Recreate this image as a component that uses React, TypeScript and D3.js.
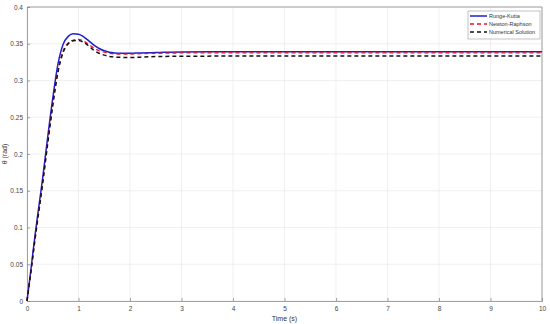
import React, { useEffect, useRef } from "react";
import * as d3 from "d3";

// time samples (s)
const times = [0, 0.05, 0.1, 0.15, 0.2, 0.3, 0.4, 0.5, 0.6, 0.7, 0.8, 0.9, 1.0, 1.1, 1.2, 1.3, 1.4, 1.5, 1.6, 1.7, 1.8, 2.0, 2.2, 2.5, 3, 4, 5, 6, 7, 8, 9, 10];

const rungeKutta = [0, 0.028, 0.057, 0.086, 0.113, 0.165, 0.222, 0.276, 0.322, 0.349, 0.36, 0.3635, 0.363, 0.3595, 0.354, 0.348, 0.3435, 0.3405, 0.3385, 0.3375, 0.337, 0.337, 0.3375, 0.338, 0.3388, 0.339, 0.339, 0.339, 0.339, 0.339, 0.339, 0.339];
const newtonRaphson = [0, 0.026, 0.054, 0.082, 0.108, 0.159, 0.215, 0.268, 0.313, 0.34, 0.351, 0.355, 0.356, 0.3535, 0.349, 0.344, 0.3405, 0.3385, 0.337, 0.3362, 0.336, 0.336, 0.3365, 0.337, 0.3375, 0.3377, 0.3377, 0.3377, 0.3377, 0.3377, 0.3377, 0.3377];
const numerical = [0, 0.026, 0.053, 0.081, 0.107, 0.158, 0.213, 0.266, 0.311, 0.338, 0.35, 0.354, 0.3545, 0.352, 0.347, 0.341, 0.337, 0.3345, 0.3328, 0.332, 0.3315, 0.3313, 0.3318, 0.3325, 0.333, 0.3332, 0.3332, 0.3332, 0.3332, 0.3332, 0.3332, 0.3332];

const xTicks = [0, 1, 2, 3, 4, 5, 6, 7, 8, 9, 10];
const yTicks = [0, 0.05, 0.1, 0.15, 0.2, 0.25, 0.3, 0.35, 0.4];

const series = [
  { name: "Runge-Kutta", values: rungeKutta, color: "#1f1fcf", dash: null, width: 1.5 },
  { name: "Newton-Raphson", values: newtonRaphson, color: "#e8102a", dash: "4,3", width: 1.3 },
  { name: "Numerical Solution", values: numerical, color: "#111111", dash: "4,3", width: 1.5 },
];

export default function App() {
  const ref = useRef<SVGSVGElement>(null);

  useEffect(() => {
    const svg = d3.select(ref.current);
    svg.selectAll("*").remove();

    const margin = { top: 7, right: 8, bottom: 23, left: 27 };
    const width = 550 - margin.left - margin.right;
    const height = 324 - margin.top - margin.bottom;

    const g = svg.append("g").attr("transform", "translate(" + margin.left + "," + margin.top + ")");

    const x = d3.scaleLinear().domain([0, 10]).range([0, width]);
    const y = d3.scaleLinear().domain([0, 0.4]).range([height, 0]);

    // grid
    g.append("g")
      .selectAll("line")
      .data(xTicks)
      .enter()
      .append("line")
      .attr("x1", d => x(d))
      .attr("x2", d => x(d))
      .attr("y1", 0)
      .attr("y2", height)
      .attr("stroke", "#e6e6e6")
      .attr("stroke-width", 0.6);
    g.append("g")
      .selectAll("line")
      .data(yTicks)
      .enter()
      .append("line")
      .attr("x1", 0)
      .attr("x2", width)
      .attr("y1", d => y(d))
      .attr("y2", d => y(d))
      .attr("stroke", "#e6e6e6")
      .attr("stroke-width", 0.6);

    // axes
    const xAxis = g.append("g")
      .attr("transform", "translate(0," + height + ")")
      .call(d3.axisBottom(x).tickValues(xTicks).tickSize(-3).tickPadding(5).tickFormat(d3.format("d")));
    const yAxis = g.append("g")
      .call(d3.axisLeft(y).tickValues(yTicks).tickSize(-3).tickPadding(4).tickFormat(d => String(+d)));
    [xAxis, yAxis].forEach(a => {
      a.select(".domain").attr("stroke", "#8a8a8a").attr("stroke-width", 0.8);
      a.selectAll(".tick line").attr("stroke", "#8a8a8a").attr("stroke-width", 0.8);
      a.selectAll("text").attr("fill", "#444").style("font-family", "Liberation Sans, Arial, sans-serif").style("font-size", "6.5px");
    });
    // top and right box
    g.append("line").attr("x1", 0).attr("x2", width).attr("y1", 0).attr("y2", 0).attr("stroke", "#8a8a8a").attr("stroke-width", 0.8);
    g.append("line").attr("x1", width).attr("x2", width).attr("y1", 0).attr("y2", height).attr("stroke", "#8a8a8a").attr("stroke-width", 0.8);

    // lines
    const line = d3.line<number>()
      .x((d, i) => x(times[i]))
      .y(d => y(d))
      .curve(d3.curveMonotoneX);

    series.forEach(s => {
      g.append("path")
        .datum(s.values)
        .attr("fill", "none")
        .attr("stroke", s.color)
        .attr("stroke-width", s.width)
        .attr("stroke-dasharray", s.dash)
        .attr("d", line);
    });

    // axis labels
    g.append("text")
      .attr("x", width / 2)
      .attr("y", height + 20)
      .attr("text-anchor", "middle")
      .attr("fill", "#333")
      .style("font-family", "Liberation Sans, Arial, sans-serif")
      .style("font-size", "7px")
      .text("Time (s)");
    g.append("text")
      .attr("transform", "translate(-20," + height / 2 + ") rotate(-90)")
      .attr("text-anchor", "middle")
      .attr("fill", "#333")
      .style("font-family", "Liberation Sans, Arial, sans-serif")
      .style("font-size", "7px")
      .text("θ (rad)");

    // legend
    const lg = svg.append("g").attr("transform", "translate(468,11)");
    lg.append("rect")
      .attr("width", 72)
      .attr("height", 28)
      .attr("fill", "#fff")
      .attr("stroke", "#9a9a9a")
      .attr("stroke-width", 0.6);
    series.forEach((s, i) => {
      const yy = 5 + i * 8;
      lg.append("line")
        .attr("x1", 2)
        .attr("x2", 19)
        .attr("y1", yy)
        .attr("y2", yy)
        .attr("stroke", s.color)
        .attr("stroke-width", s.width)
        .attr("stroke-dasharray", s.dash);
      lg.append("text")
        .attr("x", 21)
        .attr("y", yy + 2)
        .attr("fill", "#333")
        .style("font-family", "Liberation Sans, Arial, sans-serif")
        .style("font-size", "5.5px")
        .text(s.name);
    });
  }, []);

  return (
    <svg ref={ref} width={550} height={324} style={{ position: "absolute", left: 0, top: 0, background: "#fff" }} />
  );
}
